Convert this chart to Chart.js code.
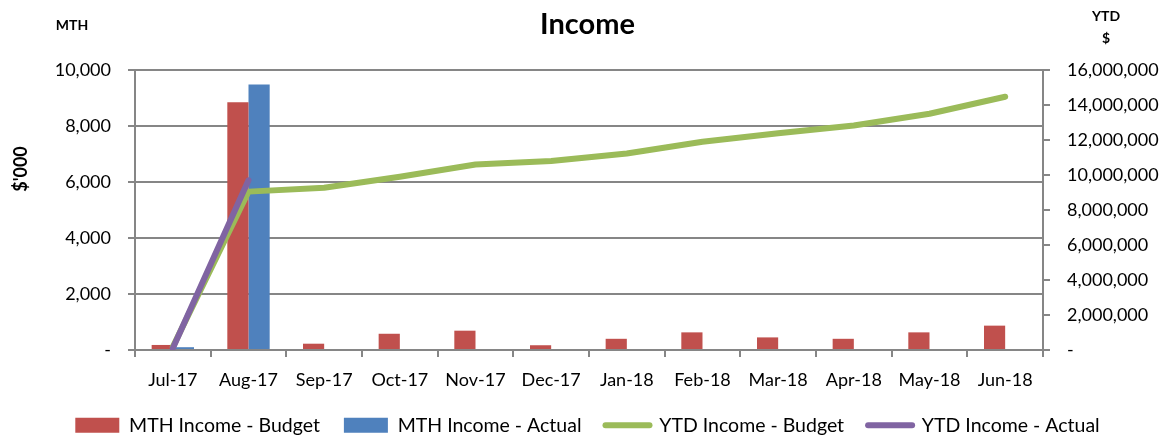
<!DOCTYPE html>
<html>
<head>
<meta charset="utf-8">
<script src="https://cdn.jsdelivr.net/npm/chart.js@4.4.1/dist/chart.umd.min.js"></script>
<style>
  html, body { margin: 0; padding: 0; background: #ffffff; }
  canvas { display: block; }
</style>
</head>
<body>
<canvas id="c" width="1175" height="439"></canvas>
<script>
// ---- data ----
const categories = ['Jul-17', 'Aug-17', 'Sep-17', 'Oct-17', 'Nov-17', 'Dec-17', 'Jan-18', 'Feb-18', 'Mar-18', 'Apr-18', 'May-18', 'Jun-18'];
const mthBudget = [180, 8850, 225, 580, 690, 170, 400, 630, 450, 400, 630, 870];
const mthActual = [100, 9480, null, null, null, null, null, null, null, null, null, null];
const ytdBudget = [180000, 9050000, 9270000, 9900000, 10600000, 10800000, 11230000, 11900000, 12390000, 12830000, 13500000, 14470000];
const ytdActual = [100000, 9700000, null, null, null, null, null, null, null, null, null, null];
const leftTicks = [0, 2000, 4000, 6000, 8000, 10000];
const rightTicks = [0, 2000000, 4000000, 6000000, 8000000, 10000000, 12000000, 14000000, 16000000];
const seriesNames = ['MTH Income - Budget', 'MTH Income - Actual', 'YTD Income - Budget', 'YTD Income - Actual'];

const FONT = 'Lato';
const GRID = '#868686';
const fmt = v => v === 0 ? '-' : Number(v).toLocaleString('en-US');

const extraText = {
  id: 'extraText',
  afterDraw(chart) {
    const ctx = chart.ctx;
    ctx.save();
    ctx.fillStyle = '#000';
    ctx.textAlign = 'center';
    ctx.textBaseline = 'middle';
    ctx.font = 'bold 14px ' + FONT;
    ctx.fillText('MTH', 72, 25);
    ctx.fillText('YTD', 1106, 16);
    ctx.fillText('$', 1106, 38);
    ctx.translate(21, 169);
    ctx.rotate(-Math.PI / 2);
    ctx.font = 'bold 18px ' + FONT;
    ctx.fillText("$'000", 0, 0);
    ctx.restore();
  }
};

new Chart(document.getElementById('c'), {
  type: 'bar',
  data: {
    labels: categories,
    datasets: [
      { type: 'bar', label: seriesNames[0], data: mthBudget, backgroundColor: '#C0504D', yAxisID: 'y', order: 2, categoryPercentage: 0.56, barPercentage: 1 },
      { type: 'bar', label: seriesNames[1], data: mthActual, backgroundColor: '#4F81BD', yAxisID: 'y', order: 2, categoryPercentage: 0.56, barPercentage: 1 },
      { type: 'line', label: seriesNames[2], data: ytdBudget, borderColor: '#9BBB59', backgroundColor: '#9BBB59', borderWidth: 6, pointRadius: 0, borderCapStyle: 'round', borderJoinStyle: 'round', tension: 0, yAxisID: 'y1', order: 1, spanGaps: false },
      { type: 'line', label: seriesNames[3], data: ytdActual, borderColor: '#8064A2', backgroundColor: '#8064A2', borderWidth: 6, pointRadius: 0, borderCapStyle: 'round', borderJoinStyle: 'round', tension: 0, yAxisID: 'y1', order: 0, spanGaps: false }
    ]
  },
  options: {
    responsive: false,
    animation: false,
    events: [],
    layout: { padding: { top: 0, left: 0, right: 0, bottom: -6 } },
    plugins: {
      title: { display: true, text: 'Income', color: '#000', font: { family: FONT, size: 29, weight: 'bold' }, padding: { top: 7, bottom: 28.2 } },
      tooltip: { enabled: false },
      legend: {
        position: 'bottom',
        labels: {
          color: '#000',
          font: { family: FONT, size: 19.5 },
          usePointStyle: true,
          pointStyleWidth: 44,
          boxHeight: 15,
          padding: 24,
          generateLabels: (chart) => chart.data.datasets.map((ds, i) => ({
            text: ds.label,
            datasetIndex: i,
            hidden: false,
            fontColor: '#000',
            fillStyle: ds.type === 'bar' ? ds.backgroundColor : ds.borderColor,
            strokeStyle: ds.type === 'bar' ? ds.backgroundColor : ds.borderColor,
            lineWidth: ds.type === 'bar' ? 0 : 6,
            lineCap: 'round',
            pointStyle: ds.type === 'bar' ? 'rect' : 'line'
          }))
        }
      }
    },
    scales: {
      x: {
        grid: { offset: true, drawOnChartArea: false, color: GRID, lineWidth: 2, tickLength: 7 },
        border: { color: GRID, width: 2 },
        ticks: { color: '#000', font: { family: FONT, size: 18 }, padding: 12, maxRotation: 0, autoSkip: false },
        afterFit: s => { s.height = 41.5; }
      },
      y: {
        position: 'left',
        min: 0, max: 10000,
        afterBuildTicks: s => { s.ticks = leftTicks.map(v => ({ value: v })); },
        ticks: { color: '#000', font: { family: FONT, size: 18 }, padding: 17, callback: fmt },
        grid: { color: GRID, lineWidth: 2, tickLength: 7 },
        border: { color: GRID, width: 2 },
        afterFit: s => { s.width = 135; }
      },
      y1: {
        position: 'right',
        min: 0, max: 16000000,
        afterBuildTicks: s => { s.ticks = rightTicks.map(v => ({ value: v })); },
        ticks: { color: '#000', font: { family: FONT, size: 18 }, padding: 17, callback: fmt },
        grid: { drawOnChartArea: false, color: GRID, lineWidth: 2, tickLength: 7 },
        border: { color: GRID, width: 2 },
        afterFit: s => { s.width = 132; }
      }
    }
  },
  plugins: [extraText]
});
</script>
</body>
</html>
